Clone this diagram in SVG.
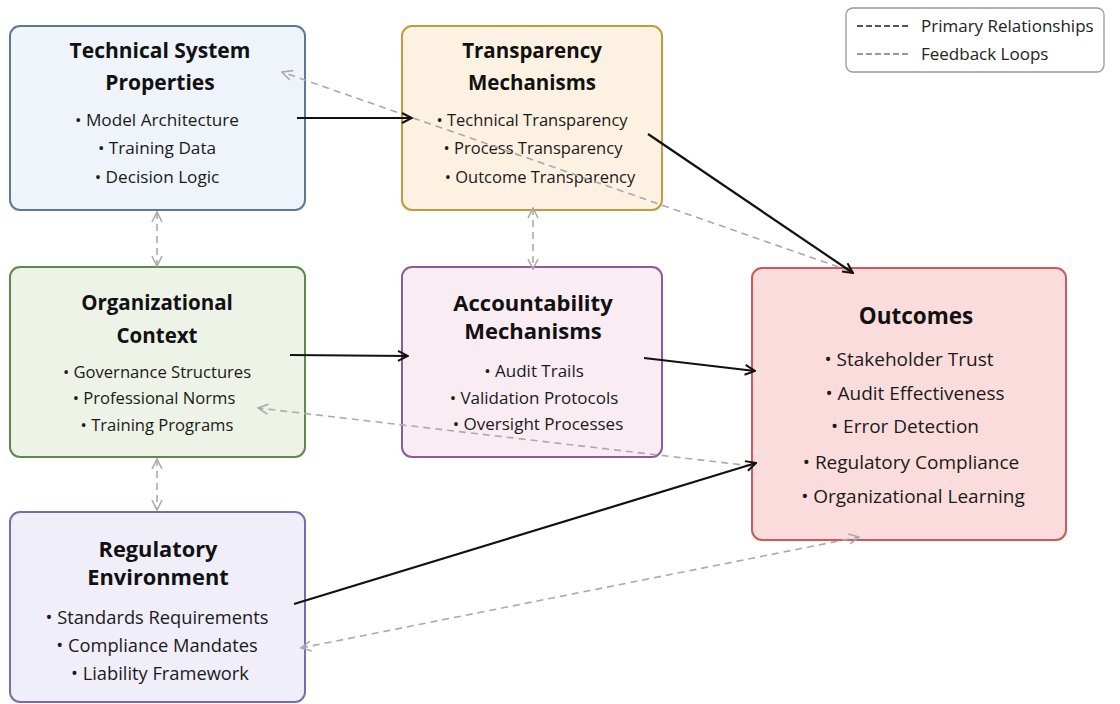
<svg xmlns="http://www.w3.org/2000/svg" width="1120" height="704" viewBox="0 0 1120 704">
<style>
text{font-family:"Open Sans","Noto Sans","Liberation Sans",sans-serif}
.t{font-weight:700;font-size:20.5px;fill:#111;text-anchor:middle}
.i{font-size:16.8px;fill:#1a1a1a;text-anchor:middle}
.l{font-size:17px;fill:#222}
.p{stroke:#111;stroke-width:2.2;fill:none;marker-end:url(#ah)}
.f{stroke:#aaa;stroke-width:1.6;stroke-dasharray:7,5;fill:none;marker-end:url(#ag)}
.fb{stroke:#aaa;stroke-width:1.6;stroke-dasharray:7,5;fill:none;marker-end:url(#ag);marker-start:url(#ags)}
</style>
<defs>
<marker id="ah" viewBox="0 0 12 12" refX="11" refY="6" markerWidth="12" markerHeight="12" markerUnits="userSpaceOnUse" orient="auto"><path d="M1,1 L11,6 L1,11" fill="none" stroke="#111" stroke-width="2"/></marker>
<marker id="ag" viewBox="0 0 12 12" refX="11" refY="6" markerWidth="12" markerHeight="12" markerUnits="userSpaceOnUse" orient="auto"><path d="M1,1 L11,6 L1,11" fill="none" stroke="#aaa" stroke-width="1.6"/></marker>
<marker id="ags" viewBox="0 0 12 12" refX="1" refY="6" markerWidth="12" markerHeight="12" markerUnits="userSpaceOnUse" orient="auto"><path d="M11,1 L1,6 L11,11" fill="none" stroke="#aaa" stroke-width="1.6"/></marker>
</defs>
<rect width="1120" height="704" fill="#fff"/>
<g id="tsp"><rect x="10" y="26" width="295" height="184" rx="10" fill="#eef4f9" stroke="#5b7a99" stroke-width="2"/>
<text class="t" x="160" y="58" style="font-size:21px">Technical System</text><text class="t" x="160" y="90" style="font-size:21px">Properties</text>
<text class="i" x="157" y="126" style="font-size:17.2px">• Model Architecture</text><text class="i" x="157" y="154" style="font-size:17.2px">• Training Data</text><text class="i" x="157" y="183" style="font-size:17.2px">• Decision Logic</text></g>
<g id="transparency"><rect x="402" y="26" width="260" height="184" rx="10" fill="#fdf1e2" stroke="#c9973f" stroke-width="2"/>
<text class="t" x="532" y="58">Transparency</text><text class="t" x="532" y="90">Mechanisms</text>
<text class="i" x="532" y="126" style="font-size:16.5px">• Technical Transparency</text><text class="i" x="533" y="154" style="font-size:16.5px">• Process Transparency</text><text class="i" x="540" y="183" style="font-size:16.5px">• Outcome Transparency</text></g>
<g id="org"><rect x="10" y="267" width="295" height="190" rx="10" fill="#edf3e6" stroke="#5a8a4c" stroke-width="2"/>
<text class="t" x="157" y="310">Organizational</text><text class="t" x="157" y="343">Context</text>
<text class="i" x="157" y="378" style="font-size:16.6px">• Governance Structures</text><text class="i" x="154" y="404" style="font-size:16.6px">• Professional Norms</text><text class="i" x="157" y="431" style="font-size:16.6px">• Training Programs</text></g>
<g id="accountability"><rect x="402" y="267" width="260" height="190" rx="10" fill="#f9ecf3" stroke="#8b5c9c" stroke-width="2"/>
<text class="t" x="533" y="311" style="font-size:22px">Accountability</text><text class="t" x="533" y="339" style="font-size:22px">Mechanisms</text>
<text class="i" x="534" y="377" style="font-size:17px">• Audit Trails</text><text class="i" x="534" y="404" style="font-size:17px">• Validation Protocols</text><text class="i" x="538" y="430" style="font-size:17px">• Oversight Processes</text></g>
<g id="outcomes"><rect x="752" y="268" width="314" height="272" rx="10" fill="#fbdcdc" stroke="#cc5a5a" stroke-width="2"/>
<text class="t" x="916" y="324" style="font-size:22.5px">Outcomes</text>
<text class="i" x="909" y="366" style="font-size:19px">• Stakeholder Trust</text><text class="i" x="915" y="400" style="font-size:19px">• Audit Effectiveness</text><text class="i" x="905" y="433" style="font-size:19px">• Error Detection</text><text class="i" x="911" y="469" style="font-size:19px">• Regulatory Compliance</text><text class="i" x="913" y="503" style="font-size:19px">• Organizational Learning</text></g>
<g id="regulatory"><rect x="10" y="512" width="295" height="190" rx="10" fill="#f0eef9" stroke="#7a6ab2" stroke-width="2"/>
<text class="t" x="158" y="557" style="font-size:21.8px">Regulatory</text><text class="t" x="158" y="585" style="font-size:21.8px">Environment</text>
<text class="i" x="157" y="624" style="font-size:18.3px">• Standards Requirements</text><text class="i" x="157" y="652" style="font-size:18.3px">• Compliance Mandates</text><text class="i" x="160" y="680" style="font-size:18.3px">• Liability Framework</text></g>
<g id="legend"><rect x="846" y="8" width="258" height="64" rx="7" fill="#fff" stroke="#999" stroke-width="1.3"/>
<line x1="857" y1="26" x2="908" y2="26" stroke="#555" stroke-width="1.8" stroke-dasharray="6,3"/>
<text class="l" x="921" y="32">Primary Relationships</text>
<line x1="857" y1="54" x2="908" y2="54" stroke="#999" stroke-width="1.8" stroke-dasharray="6,3"/>
<text class="l" x="921" y="60">Feedback Loops</text></g>
<g id="connectors">
<line class="f" x1="850" y1="271" x2="282" y2="72"/>
<line class="f" x1="752" y1="466" x2="258" y2="408"/>
<line class="fb" x1="301" y1="648" x2="859" y2="537"/>
<line class="fb" x1="157" y1="212" x2="157" y2="266"/>
<line class="fb" x1="533" y1="208" x2="533" y2="269"/>
<line class="fb" x1="157" y1="459" x2="157" y2="510"/>
<line class="p" x1="297" y1="118" x2="412" y2="118"/>
<line class="p" x1="648" y1="134" x2="853" y2="273"/>
<line class="p" x1="290" y1="355" x2="408" y2="356"/>
<line class="p" x1="644" y1="358" x2="755" y2="371"/>
<line class="p" x1="294" y1="604" x2="756" y2="463"/>
</g>
</svg>
